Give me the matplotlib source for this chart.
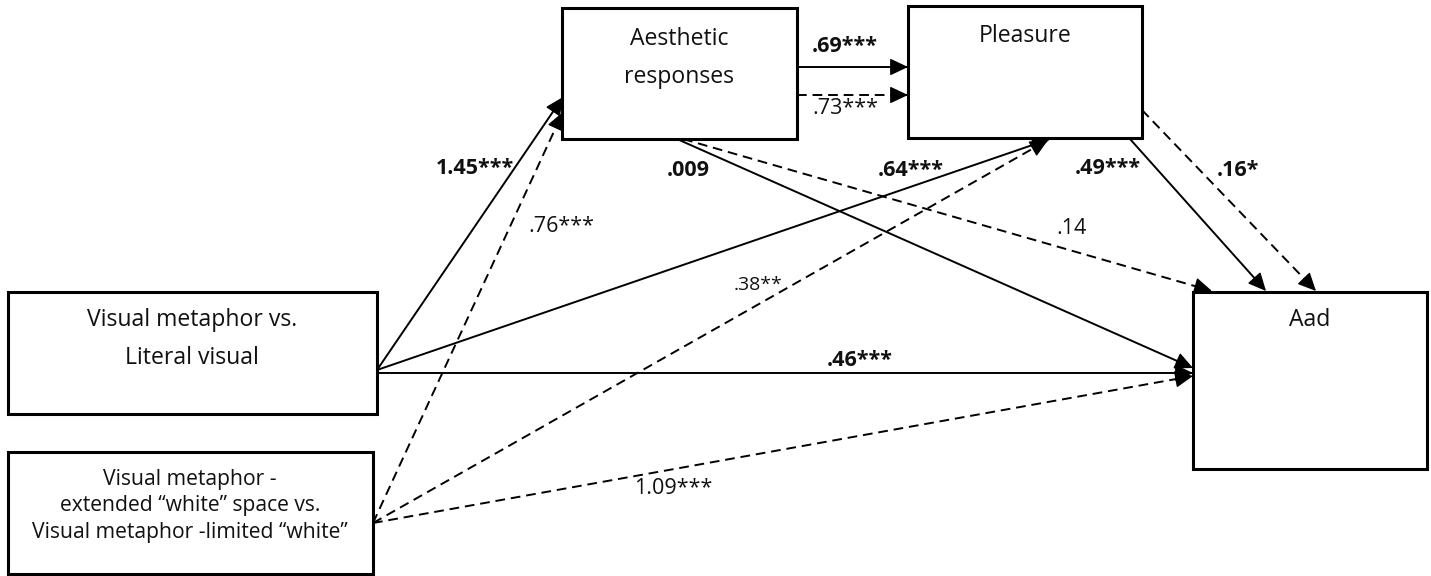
import numpy as np
import matplotlib.pyplot as plt
from matplotlib.patches import Rectangle

# node texts
node_names = ["iv1", "iv2", "aes", "pls", "aad"]
node_texts = [
    "Visual metaphor vs.\nLiteral visual",
    "Visual metaphor -\nextended \u201cwhite\u201d space vs.\nVisual metaphor -limited \u201cwhite\u201d",
    "Aesthetic\nresponses",
    "Pleasure",
    "Aad",
]

# path coefficients: (from, to, label, bold, dashed)
path_from = ["iv1", "iv2", "aes", "aes", "iv1", "iv2", "aes", "aes", "pls", "pls", "iv1", "iv2"]
path_to = ["aes", "aes", "pls", "pls", "pls", "pls", "aad", "aad", "aad", "aad", "aad", "aad"]
path_labels = ["1.45***", ".76***", ".69***", ".73***", ".64***", ".38**",
               ".009", ".14", ".49***", ".16*", ".46***", "1.09***"]
path_bold = [True, False, True, False, True, False, True, False, True, True, True, False]
path_dashed = [False, True, False, True, False, True, False, True, False, True, False, True]

# ---- layout (pixel coords, y down) ----
boxes = {
    "iv1": (8, 292, 369, 122),
    "iv2": (8, 452, 365, 122),
    "aes": (562, 8, 235, 131),
    "pls": (908, 6, 234, 132),
    "aad": (1193, 292, 234, 177),
}
text_pos = {
    "iv1": (192, 339),
    "iv2": (190, 506),
    "aes": (679, 58),
    "pls": (1025, 36),
    "aad": (1310, 320),
}
# arrow start / end points
arrow_pts = [
    ((377, 370), (563, 97)),
    ((373, 523), (563, 112)),
    ((797, 67), (908, 67)),
    ((797, 95), (908, 95)),
    ((377, 370), (1050, 139)),
    ((373, 523), (1048, 140)),
    ((677, 139), (1193, 368)),
    ((683, 139), (1212, 291)),
    ((1130, 139), (1266, 291)),
    ((1142, 110), (1316, 291)),
    ((377, 373), (1193, 373)),
    ((373, 523), (1193, 376)),
]
label_pos = [
    (475, 168), (561, 227), (845, 47), (845, 109), (911, 170), (758, 285),
    (688, 170), (1071, 229), (1108, 169), (1238, 170), (860, 360), (673, 489),
]

plt.rcParams['font.family'] = ['Open Sans', 'DejaVu Sans']

fig = plt.figure(figsize=(14.31, 5.76), dpi=100)
ax = fig.add_axes([0, 0, 1, 1])
ax.set_xlim(0, 1431)
ax.set_ylim(576, 0)
ax.axis('off')

for name, txt in zip(node_names, node_texts):
    x, y, w, h = boxes[name]
    ax.add_patch(Rectangle((x, y), w, h, fill=False, lw=2.2, ec='black'))
    tx, ty = text_pos[name]
    if name == "iv2":
        fs, ls = 15.2, 1.37
    else:
        fs, ls = 16.6, 1.77
    ax.text(tx, ty, txt, ha='center', va='center', fontsize=fs,
            linespacing=ls, color='#111111')

for (p0, p1), lab, bold, dashed, lp in zip(arrow_pts, path_labels, path_bold,
                                           path_dashed, label_pos):
    p0 = np.array(p0, float)
    p1 = np.array(p1, float)
    d = (p1 - p0) / np.hypot(*(p1 - p0))
    # shaft
    ax.plot([p0[0], p1[0] - 8 * d[0]], [p0[1], p1[1] - 8 * d[1]], color='black',
            lw=1.4, linestyle=(0, (5, 3)) if dashed else '-',
            solid_capstyle='butt')
    # solid head
    ax.annotate("", xy=tuple(p1), xytext=tuple(p1 - 3 * d),
                arrowprops=dict(arrowstyle='-|>,head_length=0.7,head_width=0.33',
                                mutation_scale=16, lw=1.0, color='black',
                                shrinkA=0, shrinkB=0))
    fs = 14 if lab == ".38**" else 15.5
    ax.text(lp[0], lp[1], lab, ha='center', va='center', fontsize=fs,
            fontweight='bold' if bold else 'normal', color='#111111')

fig.savefig("out.png", dpi=100)
